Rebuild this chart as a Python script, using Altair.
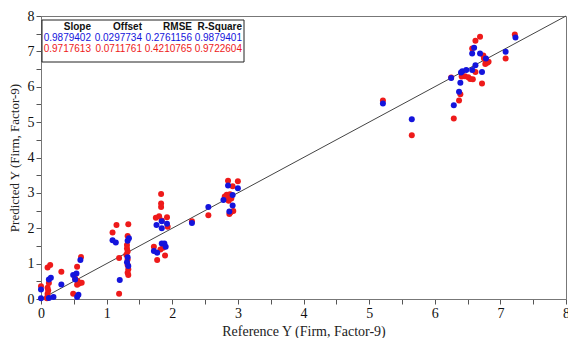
import altair as alt
import pandas as pd

# Calibration set: reference vs predicted values, two models
blue_ref = [0, 0, 0.12, 0.15, 0.19, 0.12, 0.31, 0.49, 0.54, 0.52, 0.55, 0.57, 0.6,
            1.09, 1.14, 1.2, 1.32, 1.34, 1.32, 1.31, 1.33,
            1.76, 1.84, 1.84, 1.92, 1.72, 1.77, 1.84, 1.88, 1.9,
            2.3, 2.55, 2.85, 3.0, 2.78, 2.92, 2.92, 2.87,
            5.21, 5.65, 6.29, 6.37, 6.39, 6.4, 6.42, 6.48, 6.57, 6.62, 6.72,
            6.57, 6.6, 6.69, 6.78, 7.08, 7.23, 6.25]
blue_pred = [0.02, 0.27, 0.55, 0.6, 0.06, 0.03, 0.41, 0.68, 0.72, 0.55, 0.06, 0.12, 1.1,
             1.66, 1.6, 0.54, 1.65, 1.72, 1.18, 1.04, 0.93,
             2.09, 2.0, 2.2, 2.13, 1.36, 1.31, 1.57, 1.57, 1.48,
             2.15, 2.6, 3.21, 3.13, 2.8, 2.94, 2.64, 2.47,
             5.53, 5.08, 5.48, 5.86, 6.11, 6.4, 6.44, 6.47, 6.47, 6.61, 6.42,
             6.94, 7.1, 6.94, 6.8, 6.99, 7.39, 6.25]

red_ref = [0, 0.09, 0.1, 0.1, 0.11, 0.1, 0.12, 0.1, 0.14, 0.31, 0.49, 0.55, 0.52, 0.56,
           0.58, 0.55, 0.62, 0.61,
           1.09, 1.15, 1.33, 1.32, 1.31, 1.31, 1.32, 1.3, 1.19, 1.32, 1.32, 1.33, 1.32,
           1.33, 1.19,
           1.83, 1.83, 1.83, 1.8, 1.75, 1.92, 1.84, 1.93, 1.72, 1.86, 1.82, 1.77, 1.89,
           2.3, 2.55, 2.85, 3.0, 2.92, 2.8, 2.83, 2.86, 2.88, 2.84, 2.9, 2.86, 2.82,
           2.93, 2.87, 2.89,
           5.21, 5.65, 6.25, 6.29, 6.37, 6.39, 6.41, 6.46, 6.51, 6.54, 6.58, 6.62, 6.72,
           6.57, 6.62, 6.69, 6.74, 6.75, 6.78, 6.8, 6.77, 6.82, 7.08, 7.22]
red_pred = [0.36, 0.02, 0.08, 0.15, 0.24, 0.32, 0.45, 0.89, 0.96, 0.77, 0.15, 0.91, 0.58,
            0.5, 0.44, 0.4, 0.46, 1.19,
            1.88, 2.09, 2.11, 1.78, 1.53, 1.43, 1.34, 1.25, 1.16, 1.12, 0.96, 0.84, 0.74,
            0.68, 0.15,
            2.97, 2.7, 2.6, 2.34, 2.3, 2.31, 2.22, 2.04, 1.48, 1.45, 1.4, 1.1, 1.23,
            2.2, 2.37, 3.34, 3.33, 3.19, 2.9, 2.95, 2.87, 2.96, 2.82, 2.84, 2.78, 2.86,
            2.49, 2.4, 2.45,
            5.61, 4.63, 6.26, 5.1, 5.61, 5.79, 6.29, 6.3, 6.27, 6.22, 6.21, 6.42, 6.09,
            7.08, 7.3, 7.41, 6.88, 6.8, 6.74, 6.68, 6.64, 6.71, 6.8, 7.48]

# Regression statistics for the two models
stat_headers = ["Slope", "Offset", "RMSE", "R-Square"]
blue_stats = ["0.9879402", "0.0297734", "0.2761156", "0.9879401"]
red_stats = ["0.9717613", "0.0711761", "0.4210765", "0.9722604"]

BLUE = "#1414dc"
RED = "#ee1a1a"

blue_df = pd.DataFrame({"ref": blue_ref, "pred": blue_pred})
red_df = pd.DataFrame({"ref": red_ref, "pred": red_pred})
diag_df = pd.DataFrame({"ref": [0, 8], "pred": [0, 8]})

ticks = [i * 0.5 for i in range(17)]
int_labels = "datum.value % 1 == 0 ? format(datum.value, 'd') : ''"

x_enc = alt.X("ref:Q", scale=alt.Scale(domain=[0, 8], nice=False),
              axis=alt.Axis(values=ticks, labelExpr=int_labels,
                            title="Reference Y (Firm, Factor-9)", titlePadding=4))
y_enc = alt.Y("pred:Q", scale=alt.Scale(domain=[0, 8], nice=False),
              axis=alt.Axis(values=ticks, labelExpr=int_labels,
                            title="Predicted Y (Firm, Factor-9)", titlePadding=6,
                            titleFontSize=13))

diag = alt.Chart(diag_df).mark_line(color="#444444", strokeWidth=1).encode(x=x_enc, y=y_enc)
red_pts = alt.Chart(red_df).mark_circle(size=36, opacity=1, color=RED).encode(x=x_enc, y=y_enc)
blue_pts = alt.Chart(blue_df).mark_circle(size=36, opacity=1, color=BLUE).encode(x=x_enc, y=y_enc)

# Statistics table in the upper-left corner
col_right = [50, 101, 151, 201]
row_mid = [11, 22, 33]

box = alt.Chart(pd.DataFrame({"k": [0]})).mark_rect(
    fill="white", stroke="#222222", strokeWidth=1
).encode(x=alt.value(1), x2=alt.value(203), y=alt.value(4), y2=alt.value(46))

cell_df = pd.DataFrame({"k": [0]})
cells = []
for r, (texts, color, weight) in enumerate([
    (stat_headers, "#111111", "bold"),
    (blue_stats, BLUE, "normal"),
    (red_stats, RED, "normal"),
]):
    for c, t in enumerate(texts):
        cells.append(
            alt.Chart(cell_df).mark_text(
                align="right", baseline="middle", font="Liberation Sans",
                fontSize=10, fontWeight=weight, color=color, text=t,
            ).encode(x=alt.value(col_right[c]), y=alt.value(row_mid[r]))
        )

chart = alt.layer(diag, red_pts, blue_pts, box, *cells).properties(
    width=525, height=283,
    autosize=alt.AutoSizeParams(type="none"),
    padding={"left": 41, "top": 16, "right": 2, "bottom": 39},
).configure_view(stroke="#777777", strokeWidth=1).configure_axis(
    grid=False,
    labelFont="Liberation Serif", labelFontSize=14, labelColor="#111111",
    titleFont="Liberation Serif", titleFontSize=14, titleFontWeight="normal",
    titleColor="#222222",
    domainColor="#777777", tickColor="#555555", tickSize=5, labelPadding=2,
    labelFlush=False,
)

chart.save("out.html", embed_options={"renderer": "svg", "actions": False})
